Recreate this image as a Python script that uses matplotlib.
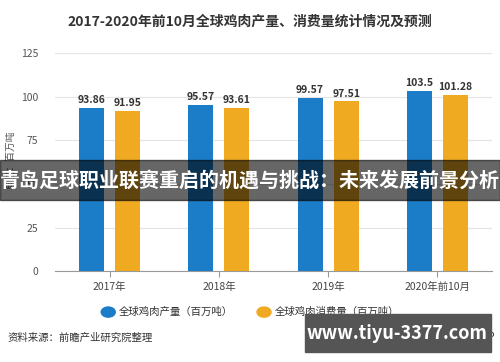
import matplotlib.pyplot as plt
import numpy as np
from matplotlib.patches import Rectangle

plt.rcParams['font.family'] = ['Noto Sans CJK SC', 'DejaVu Sans']

categories = ['2017年', '2018年', '2019年', '2020年前10月']
production = [93.86, 95.57, 99.57, 103.5]
consumption = [91.95, 93.61, 97.51, 101.28]
value_labels_prod = ['93.86', '95.57', '99.57', '103.5']
value_labels_cons = ['91.95', '93.61', '97.51', '101.28']
yticks = [0, 25, 50, 75, 100, 125]

blue = '#1b7cc7'
orange = '#f0aa22'

fig = plt.figure(figsize=(5, 3.62), dpi=100)
ax = fig.add_axes([0.11, 0.251, 0.874, 0.602])

x = np.arange(len(categories))
w = 0.23
off = 0.165
ax.bar(x - off, production, w, color=blue, label='全球鸡肉产量（百万吨）', zorder=3)
ax.bar(x + off, consumption, w, color=orange, label='全球鸡肉消费量（百万吨）', zorder=3)

# 數值標籤
for xi, v, t in zip(x - off, production, value_labels_prod):
    ax.text(xi, v + 1.5, t, ha='center', va='bottom', fontsize=7.5,
            fontweight='bold', color='#333333')
for xi, v, t in zip(x + off, consumption, value_labels_cons):
    ax.text(xi, v + 1.5, t, ha='center', va='bottom', fontsize=7.5,
            fontweight='bold', color='#333333')

ax.set_xlim(-0.5, 3.5)
ax.set_ylim(0, 125)
ax.set_yticks(yticks)
ax.set_xticks(x)
ax.set_xticklabels(categories)
ax.tick_params(axis='y', length=0, labelsize=7.5, labelcolor='#555555', pad=12)
ax.tick_params(axis='x', length=4, color='#999999', labelsize=7.5,
               labelcolor='#444444', pad=4)
ax.grid(axis='y', color='#e4e4e4', linewidth=0.8, zorder=0)
for s in ['top', 'right', 'left']:
    ax.spines[s].set_visible(False)
ax.spines['bottom'].set_color('#999999')

fig.text(0.02, 0.56, '单位：百万吨', rotation=90, fontsize=7, color='#555555',
         ha='center', va='center')

fig.text(0.5, 0.94, '2017-2020年前10月全球鸡肉产量、消费量统计情况及预测',
         ha='center', va='center', fontsize=10, fontweight='bold', color='#333333')

# 圓點圖例
leg = fig.legend(loc='center', bbox_to_anchor=(0.5, 0.138), ncol=2, frameon=False,
                 fontsize=7.5, handlelength=1, handleheight=1, columnspacing=2.2)
for h in leg.legend_handles:
    h.set_visible(False)
for txt in leg.get_texts():
    txt.set_color('#333333')
fig.canvas.draw()
for txt, c in zip(leg.get_texts(), [blue, orange]):
    bb = txt.get_window_extent()
    fig.patches.append(plt.Circle(((bb.x0 - 11) / 500, (bb.y0 + bb.y1) / 2 / 362),
                                  0.014, transform=fig.transFigure, color=c))

fig.text(0.016, 0.068, '资料来源：前瞻产业研究院整理', fontsize=7.5, color='#333333',
         va='center')
fig.text(0.99, 0.068, '前瞻经济学人APP', fontsize=7.5, color='#333333',
         va='center', ha='right')

# 中間橫幅
fig.patches.append(Rectangle((0, 0.448), 1, 0.11, transform=fig.transFigure,
                             color='black', alpha=0.6, zorder=10))
fig.text(0.5, 0.503, '青岛足球职业联赛重启的机遇与挑战：未来发展前景分析',
         ha='center', va='center', fontsize=14.4, fontweight='bold', color='white',
         zorder=11)

# 右下網址框
fig.patches.append(Rectangle((0.61, 0.028), 0.372, 0.105, transform=fig.transFigure,
                             color='#555555', zorder=10))
fig.text(0.793, 0.08, 'www.tiyu-3377.com', ha='center', va='center', fontsize=13,
         fontweight='bold', color='white', zorder=11)

fig.savefig('out.png', dpi=100)
